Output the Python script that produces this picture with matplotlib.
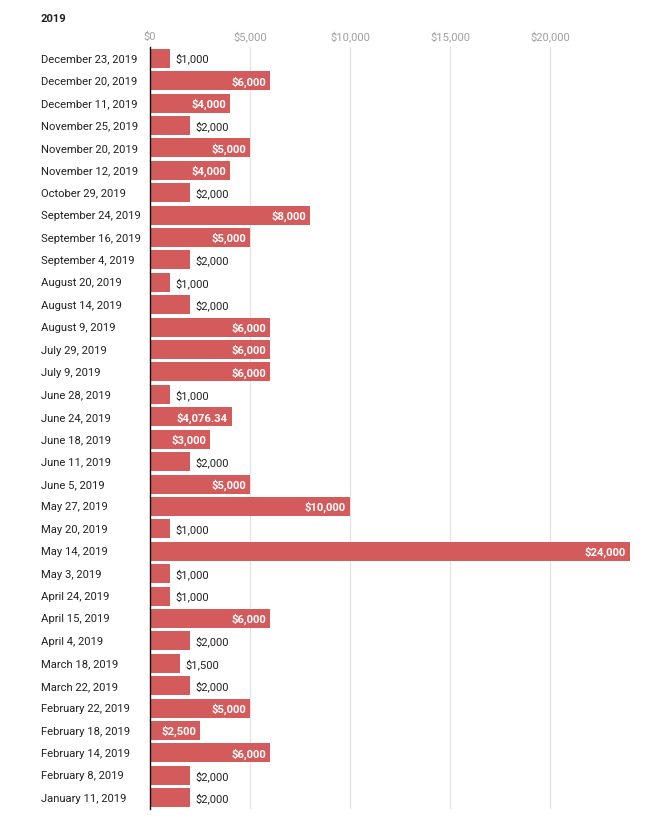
import matplotlib.pyplot as plt
from matplotlib.ticker import FuncFormatter
import matplotlib.transforms as mtransforms

plt.rcParams['font.family'] = ['Roboto', 'DejaVu Sans']

# data, top to bottom as shown
dates = [
    'December 23, 2019', 'December 20, 2019', 'December 11, 2019',
    'November 25, 2019', 'November 20, 2019', 'November 12, 2019',
    'October 29, 2019', 'September 24, 2019', 'September 16, 2019',
    'September 4, 2019', 'August 20, 2019', 'August 14, 2019',
    'August 9, 2019', 'July 29, 2019', 'July 9, 2019', 'June 28, 2019',
    'June 24, 2019', 'June 18, 2019', 'June 11, 2019', 'June 5, 2019',
    'May 27, 2019', 'May 20, 2019', 'May 14, 2019', 'May 3, 2019',
    'April 24, 2019', 'April 15, 2019', 'April 4, 2019', 'March 18, 2019',
    'March 22, 2019', 'February 22, 2019', 'February 18, 2019',
    'February 14, 2019', 'February 8, 2019', 'January 11, 2019',
]
amounts = [
    1000, 6000, 4000,
    2000, 5000, 4000,
    2000, 8000, 5000,
    2000, 1000, 2000,
    6000, 6000, 6000, 1000,
    4076.34, 3000, 2000, 5000,
    10000, 1000, 24000, 1000,
    1000, 6000, 2000, 1500,
    2000, 5000, 2500,
    6000, 2000, 2000,
]
xticks = [0, 5000, 10000, 15000, 20000]


def money(v):
    if v == int(v):
        return '${:,.0f}'.format(v)
    return '${:,.2f}'.format(v)


W, H = 654, 820
fs = 8.1
fig = plt.figure(figsize=(W / 100, H / 100), dpi=100)
ax = fig.add_axes([150 / W, 1 - 810 / H, (632 - 150) / W, (810 - 48) / H])

n = len(dates)
ypos = list(range(n))
bar_color = '#d35b5c'
ax.barh(ypos, amounts, height=0.85, color=bar_color, zorder=2)

ax.set_ylim(n - 0.5, -0.5)
ax.set_xlim(0, 24100)
ax.set_xticks(xticks)
ax.xaxis.set_major_formatter(FuncFormatter(lambda v, p: money(v)))
ax.xaxis.tick_top()
ax.tick_params(axis='x', length=0, pad=4, labelsize=fs, labelcolor='#a0a0a0')
ax.tick_params(axis='y', length=0, labelleft=False)
ax.grid(axis='x', color='#e3e3e3', linewidth=0.9, zorder=0)
ax.set_axisbelow(True)
for s in ['top', 'right', 'bottom']:
    ax.spines[s].set_visible(False)
ax.spines['left'].set_color('#111111')
ax.spines['left'].set_linewidth(1.0)
ax.spines['left'].set_zorder(3)

off = mtransforms.offset_copy

# category labels, left-aligned at the page margin
trans = mtransforms.blended_transform_factory(fig.transFigure, ax.transData)
for y, d in zip(ypos, dates):
    fig.text(41 / W, y, d, ha='left', va='center_baseline',
             fontsize=fs, color='#222222',
             transform=off(trans, fig=fig, x=0, y=1, units='dots'))

# value labels
for y, v in zip(ypos, amounts):
    if v > 2000:
        ax.text(v, y, money(v), ha='right', va='center_baseline', fontsize=fs,
                fontweight='bold', color='white', zorder=4,
                transform=off(ax.transData, fig=fig, x=-4, y=1, units='dots'))
    else:
        ax.text(v, y, money(v), ha='left', va='center_baseline', fontsize=fs,
                color='#222222', zorder=4,
                transform=off(ax.transData, fig=fig, x=5, y=1, units='dots'))

fig.text(41 / W, 1 - 19 / H, '2019', ha='left', va='center',
         fontsize=fs, fontweight='bold', color='#222222')

plt.savefig('out.png', dpi=100)
